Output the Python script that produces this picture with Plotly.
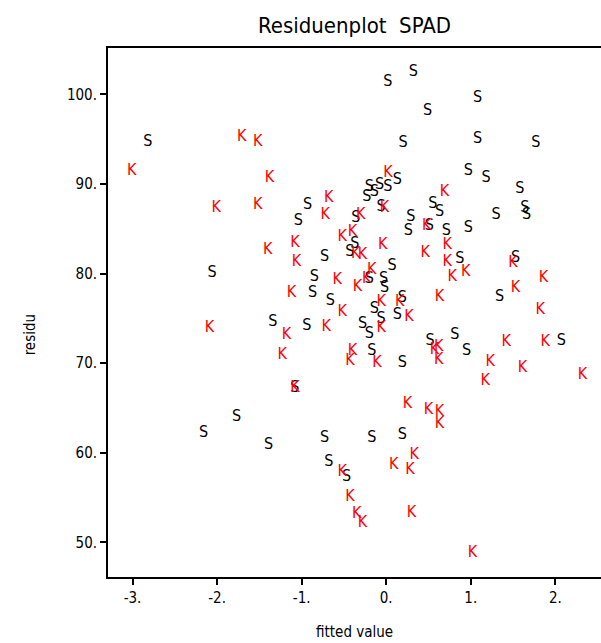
import plotly.graph_objects as go

# Group S: fitted value vs. residu
s_fitted = [-2.82, 0.02, 0.32, 0.49, 1.08, 0.20, 1.08, 1.77, 0.97, 1.18, 0.13, 1.58,
            -0.20, -0.14, -0.23, -0.08, 0.02, -0.06, -0.36, 0.29, 0.55, 0.63, 1.30, 1.64,
            1.66, 0.71, 0.97, 0.51, 0.26, -0.93, -1.04, -0.73, -0.37, -0.43, 0.07, -0.85,
            -0.20, -0.03, -0.02, -0.87, -0.66, 0.19, -0.14, -0.06, 0.13, -0.28, -0.94, -1.34,
            -2.06, -0.20, -0.17, 0.19, 0.52, 0.81, 0.95, 0.87, 1.53, 1.34, 2.07, -1.77,
            -2.16, -1.39, -0.73, -0.68, -0.47, -1.08, -0.17, 0.19]
s_residu = [94.68, 101.37, 102.49, 98.14, 99.59, 94.56, 95.01, 94.56, 91.44, 90.66, 90.43, 89.43,
            89.65, 89.10, 88.54, 89.88, 89.65, 87.42, 86.19, 86.31, 87.76, 86.86, 86.53, 87.31,
            86.53, 84.74, 85.08, 85.30, 84.74, 87.64, 85.86, 81.84, 83.29, 82.40, 80.83, 79.61,
            79.39, 79.39, 78.38, 77.83, 76.94, 77.27, 76.04, 74.92, 75.37, 74.36, 74.14, 74.59,
            80.06, 73.25, 71.35, 70.01, 72.47, 73.14, 71.35, 81.62, 81.73, 77.38, 72.47, 63.99,
            62.20, 60.86, 61.64, 58.96, 57.29, 67.24, 61.64, 61.98]

# Group K: fitted value vs. residu
k_fitted = [-3.01, -1.71, -1.52, -1.38, -2.01, -1.52, -0.68, -0.72, 0.02, 0.69, -0.02, -0.30,
            0.48, -0.52, -0.40, -0.04, 0.72, 0.46, -0.36, -0.28, -1.40, -1.08, -1.06, -0.58,
            -0.23, -0.34, -0.17, -1.12, -0.52, -0.06, 0.16, 0.27, -0.06, -0.71, -1.18, -1.23,
            -2.09, -0.40, -0.43, -0.11, 0.72, 0.78, 0.94, 1.50, 1.86, 1.53, 0.63, 1.82,
            1.42, 1.88, 0.57, 0.62, 0.62, 1.23, 1.17, 1.61, 2.32, -1.08, 0.25, 0.50,
            0.63, 0.63, 0.33, 0.09, 0.28, -0.52, -0.43, -0.35, -0.28, 0.30, 1.02]
k_residu = [91.42, 95.23, 94.68, 90.66, 87.31, 87.64, 88.43, 86.53, 91.22, 89.10, 87.31, 86.53,
            85.30, 84.07, 84.63, 83.18, 83.18, 82.29, 82.18, 82.06, 82.62, 83.40, 81.28, 79.27,
            79.39, 78.49, 80.39, 77.83, 75.70, 76.82, 76.82, 75.14, 73.91, 74.03, 73.14, 70.90,
            73.91, 71.36, 70.24, 70.01, 81.28, 79.61, 80.17, 81.17, 79.50, 78.38, 77.38, 75.93,
            72.36, 72.36, 71.47, 71.80, 70.35, 70.12, 68.00, 69.45, 68.67, 67.24, 65.43, 64.76,
            64.54, 63.20, 59.74, 58.62, 58.07, 57.84, 55.07, 53.17, 52.17, 53.28, 48.81]

x_ticks = [-3, -2, -1, 0, 1, 2]
x_tick_text = ["-3.", "-2.", "-1.", "0.", "1.", "2."]
y_ticks = [50, 60, 70, 80, 90, 100]
y_tick_text = ["50.", "60.", "70.", "80.", "90.", "100."]

FONT = "Liberation Sans Narrow, DejaVu Sans Condensed, sans-serif"

fig = go.Figure()
fig.add_trace(go.Scatter(
    x=s_fitted, y=s_residu, mode="text", text=["S"] * len(s_fitted),
    textposition="middle center", textfont=dict(family=FONT, size=16, color="black"),
    hoverinfo="x+y", showlegend=False))
fig.add_trace(go.Scatter(
    x=k_fitted, y=k_residu, mode="text", text=["K"] * len(k_fitted),
    textposition="middle center", textfont=dict(family=FONT, size=16, color="red"),
    hoverinfo="x+y", showlegend=False))

fig.update_layout(
    width=601, height=643,
    margin=dict(l=108, r=0, t=48, b=66),
    paper_bgcolor="white", plot_bgcolor="white",
    font=dict(family=FONT, color="black"),
    title=dict(text="Residuenplot  SPAD", x=0.5, xref="paper", y=1 - 25 / 643,
               xanchor="center", yanchor="middle", font=dict(family=FONT, size=22)),
    xaxis=dict(range=[-3.29, 2.54], tickmode="array", tickvals=x_ticks, ticktext=x_tick_text,
               showgrid=False, zeroline=False, showline=True, linecolor="black", linewidth=2,
               mirror=True, ticks="outside", ticklen=6, tickwidth=1.5, tickcolor="black",
               tickfont=dict(family=FONT, size=15)),
    yaxis=dict(range=[46.13, 105.17], tickmode="array", tickvals=y_ticks, ticktext=y_tick_text,
               showgrid=False, zeroline=False, showline=True, linecolor="black", linewidth=2,
               ticks="outside", ticklen=6, tickwidth=1.5, tickcolor="black",
               tickfont=dict(family=FONT, size=15)),
    annotations=[
        dict(text="residu", xref="paper", yref="paper", x=-0.158, y=0.457, textangle=-90,
             showarrow=False, xanchor="center", yanchor="middle", font=dict(family=FONT, size=15)),
        dict(text="fitted value", xref="paper", yref="paper", x=0.501, y=-0.104,
             showarrow=False, xanchor="center", yanchor="middle", font=dict(family=FONT, size=15)),
    ],
)

fig.write_html("out.html")
